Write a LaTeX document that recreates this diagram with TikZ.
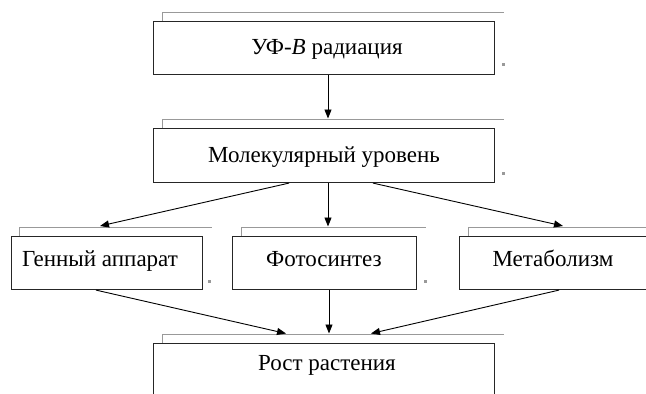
\documentclass[tikz,border=0pt]{standalone}
\usepackage{fontspec}
\setmainfont{Liberation Serif}
\usetikzlibrary{arrows.meta,calc}
\tikzset{
  box/.style={draw=black!85, line width=1.1pt, rectangle, inner sep=0pt, anchor=north west},
  txt/.style={anchor=base, inner sep=0pt, font=\fontsize{23}{27}\selectfont},
  shade/.style={draw=black!40, line width=0.9pt},
  dotmark/.style={fill=black!40},
  arr/.style={draw=black, line width=0.9pt, -{Triangle[length=9pt,width=7pt]}}
}
\begin{document}
\begin{tikzpicture}[x=1pt,y=-1pt]
\useasboundingbox (0,0) rectangle (646,394);
\clip (0,0) rectangle (646,394);
% boxes
\node[box, minimum width=341pt, minimum height=53pt] (b1) at (153,21) {};
\node[box, minimum width=341pt, minimum height=54pt] (b2) at (153,128) {};
\node[box, minimum width=191.5pt, minimum height=53pt] (bA) at (10.5,236) {};
\node[box, minimum width=184pt, minimum height=53pt] (bB) at (232,236) {};
\node[box, minimum width=230pt, minimum height=53pt] (bC) at (459,236) {};
\node[box, minimum width=341pt, minimum height=60pt] (b4) at (153,343) {};
% gray shadow lines
\foreach \b in {b1,b2,bA,bB,bC,b4}{
  \draw[shade] ($(\b.north west)+(9,0)$) -- ($(\b.north west)+(9,-9)$) -- ($(\b.north east)+(9,-9)$);
}
% small marks
\foreach \b/\dx/\dy in {b1/7/-12, b2/7/-11, bA/5/-10, bB/7/-10, b4/7/42}{
  \fill[dotmark] ($(\b.south east)+(\dx,\dy)$) rectangle ++(2.6,2.6);
}
% texts
\node[txt] (t1) at (327,54) {УФ-\textit{B} радиация};
\node[txt] (t2) at (324,162) {Молекулярный уровень};
\node[txt] (tA) at (100,266) {Генный аппарат};
\node[txt] (tB) at (324,266) {Фотосинтез};
\node[txt] (tC) at (553,266) {Метаболизм};
\node[txt] (t4) at (327,370) {Рост растения};
% connectors
\draw[arr] ($(b1.south west)+(175,0)$) -- ($(b2.north west)+(175,-9.5)$);
\draw[arr] ($(b2.south west)+(136,0)$) -- ($(bA.north west)+(89.5,-10)$);
\draw[arr] ($(b2.south west)+(175,0)$) -- ($(bB.north west)+(96,-9.5)$);
\draw[arr] ($(b2.south west)+(220,0)$) -- ($(bC.north west)+(104,-10)$);
\draw[arr] ($(bA.south west)+(85.5,0)$) -- ($(b4.north west)+(133,-9.5)$);
\draw[arr] ($(bB.south west)+(97,0)$) -- ($(b4.north west)+(176,-9.5)$);
\draw[arr] ($(bC.south west)+(100,0)$) -- ($(b4.north west)+(218,-9.5)$);
\end{tikzpicture}
\end{document}
